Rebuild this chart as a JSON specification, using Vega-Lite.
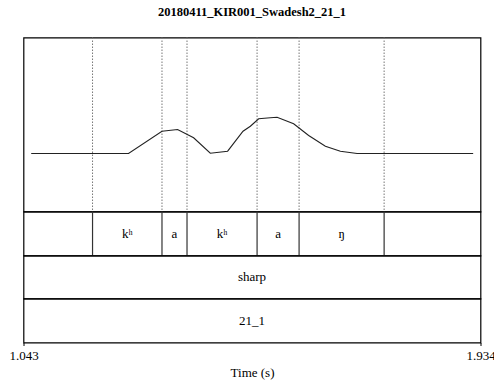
{
  "$schema": "https://vega.github.io/schema/vega-lite/v6.json",
  "padding": {"left": 7.5, "top": 5.5, "right": 0, "bottom": 0},
  "background": "white",
  "bounds": "flush",
  "title": {"text": "20180411_KIR001_Swadesh2_21_1", "font": "Liberation Serif", "fontSize": 12.5, "fontWeight": "bold", "color": "black", "anchor": "middle", "offset": 18},
  "datasets": {
    "pitch": [
      {"time": 1.058, "f0": 166.7},
      {"time": 1.2478, "f0": 166.7},
      {"time": 1.313, "f0": 192.3},
      {"time": 1.3434, "f0": 194.3},
      {"time": 1.3747, "f0": 184.7},
      {"time": 1.4072, "f0": 167.0},
      {"time": 1.441, "f0": 169.3},
      {"time": 1.471, "f0": 192.3},
      {"time": 1.4853, "f0": 198.0},
      {"time": 1.5015, "f0": 206.6},
      {"time": 1.5243, "f0": 207.7},
      {"time": 1.5374, "f0": 208.4},
      {"time": 1.5697, "f0": 200.8},
      {"time": 1.599, "f0": 187.4},
      {"time": 1.6316, "f0": 175.0},
      {"time": 1.6608, "f0": 169.3},
      {"time": 1.6934, "f0": 166.7},
      {"time": 1.9197, "f0": 166.7}
    ],
    "phones": [
      {"start": 1.043, "end": 1.1776, "label": ""},
      {"start": 1.1776, "end": 1.313, "label": "kʰ"},
      {"start": 1.313, "end": 1.3618, "label": "a"},
      {"start": 1.3618, "end": 1.4984, "label": "kʰ"},
      {"start": 1.4984, "end": 1.5803, "label": "a"},
      {"start": 1.5803, "end": 1.7461, "label": "ŋ"},
      {"start": 1.7461, "end": 1.934, "label": ""}
    ],
    "gloss": [
      {"start": 1.043, "end": 1.934, "label": "sharp"}
    ],
    "item": [
      {"start": 1.043, "end": 1.934, "label": "21_1"}
    ]
  },
  "spacing": 0,
  "vconcat": [
    {
      "width": 457,
      "height": 174,
      "layer": [
        {
          "data": {"name": "phones"},
          "transform": [{"filter": "datum.start > 1.05"}],
          "mark": {"type": "rule", "color": "#777777", "strokeWidth": 1, "strokeDash": [1.5, 1.5]},
          "encoding": {
            "x": {"field": "start", "type": "quantitative", "scale": {"domain": [1.043, 1.934], "nice": false, "zero": false}, "axis": null}
          }
        },
        {
          "data": {"name": "pitch"},
          "mark": {"type": "line", "color": "#222222", "strokeWidth": 1.1},
          "encoding": {
            "x": {"field": "time", "type": "quantitative", "scale": {"domain": [1.043, 1.934], "nice": false, "zero": false}, "axis": null},
            "y": {"field": "f0", "type": "quantitative", "scale": {"domain": [100, 300], "nice": false, "zero": false}, "axis": null}
          }
        }
      ]
    },
    {
      "width": 457,
      "height": 44,
      "data": {"name": "phones"},
      "transform": [{"calculate": "(datum.start + datum.end) / 2", "as": "mid"}],
      "layer": [
        {
          "transform": [{"filter": "datum.start > 1.05"}],
          "mark": {"type": "rule", "color": "#333333", "strokeWidth": 1.2},
          "encoding": {
            "x": {"field": "start", "type": "quantitative", "scale": {"domain": [1.043, 1.934], "nice": false, "zero": false}, "axis": null}
          }
        },
        {
          "mark": {"type": "text", "font": "Liberation Serif", "fontSize": 13, "color": "black", "baseline": "middle"},
          "encoding": {
            "x": {"field": "mid", "type": "quantitative", "scale": {"domain": [1.043, 1.934], "nice": false, "zero": false}, "axis": null},
            "text": {"field": "label"}
          }
        }
      ]
    },
    {
      "width": 457,
      "height": 43,
      "data": {"name": "gloss"},
      "transform": [{"calculate": "(datum.start + datum.end) / 2", "as": "mid"}],
      "mark": {"type": "text", "font": "Liberation Serif", "fontSize": 13, "color": "black", "baseline": "middle"},
      "encoding": {
        "x": {"field": "mid", "type": "quantitative", "scale": {"domain": [1.043, 1.934], "nice": false, "zero": false}, "axis": null},
        "text": {"field": "label"}
      }
    },
    {
      "width": 457,
      "height": 44,
      "data": {"name": "item"},
      "transform": [{"calculate": "(datum.start + datum.end) / 2", "as": "mid"}],
      "mark": {"type": "text", "font": "Liberation Serif", "fontSize": 13, "color": "black", "baseline": "middle"},
      "encoding": {
        "x": {
          "field": "mid", "type": "quantitative",
          "scale": {"domain": [1.043, 1.934], "nice": false, "zero": false},
          "axis": {
            "title": "Time (s)",
            "values": [1.043, 1.934],
            "format": ".3f",
            "domain": false,
            "grid": false,
            "ticks": true,
            "tickSize": 3,
            "tickColor": "black",
            "labelFont": "Liberation Serif",
            "labelFontSize": 13,
            "labelColor": "black",
            "labelPadding": 3.5,
            "labelFlush": false,
            "labelOverlap": false,
            "titleFont": "Liberation Serif",
            "titleFontSize": 13,
            "titleFontWeight": "normal",
            "titleColor": "black",
            "titlePadding": 4
          }
        },
        "text": {"field": "label"}
      }
    }
  ],
  "config": {
    "view": {"stroke": "black", "strokeWidth": 1.2}
  }
}
